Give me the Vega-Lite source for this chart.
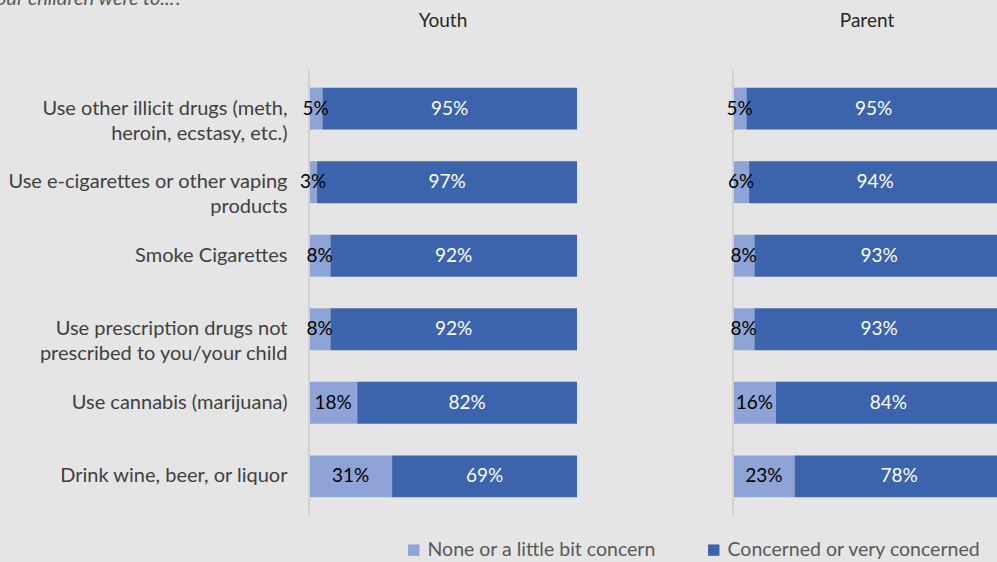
{
  "$schema": "https://vega.github.io/schema/vega-lite/v6.json",
  "background": "#e5e5e5",
  "padding": {"left": -14, "top": -11, "right": 0, "bottom": 5},
  "title": {"text": "your children were to...?", "anchor": "start", "frame": "bounds", "dx": -20, "fontStyle": "italic", "fontWeight": "normal", "fontSize": 20, "font": "Lato", "color": "#595959", "offset": 3},
  "config": {"view": {"stroke": null}, "font": "Lato"},
  "data": {"values": [
    {"group": "Youth", "item": "Use other illicit drugs (meth, heroin, ecstasy, etc.)", "seg": "None or a little bit concern", "k": 1, "v": 0.05},
    {"group": "Youth", "item": "Use other illicit drugs (meth, heroin, ecstasy, etc.)", "seg": "Concerned or very concerned", "k": 2, "v": 0.95},
    {"group": "Youth", "item": "Use e-cigarettes or other vaping products", "seg": "None or a little bit concern", "k": 1, "v": 0.03},
    {"group": "Youth", "item": "Use e-cigarettes or other vaping products", "seg": "Concerned or very concerned", "k": 2, "v": 0.97},
    {"group": "Youth", "item": "Smoke Cigarettes", "seg": "None or a little bit concern", "k": 1, "v": 0.08},
    {"group": "Youth", "item": "Smoke Cigarettes", "seg": "Concerned or very concerned", "k": 2, "v": 0.92},
    {"group": "Youth", "item": "Use prescription drugs not prescribed to you/your child", "seg": "None or a little bit concern", "k": 1, "v": 0.08},
    {"group": "Youth", "item": "Use prescription drugs not prescribed to you/your child", "seg": "Concerned or very concerned", "k": 2, "v": 0.92},
    {"group": "Youth", "item": "Use cannabis (marijuana)", "seg": "None or a little bit concern", "k": 1, "v": 0.18},
    {"group": "Youth", "item": "Use cannabis (marijuana)", "seg": "Concerned or very concerned", "k": 2, "v": 0.82},
    {"group": "Youth", "item": "Drink wine, beer, or liquor", "seg": "None or a little bit concern", "k": 1, "v": 0.31},
    {"group": "Youth", "item": "Drink wine, beer, or liquor", "seg": "Concerned or very concerned", "k": 2, "v": 0.69},
    {"group": "Parent", "item": "Use other illicit drugs (meth, heroin, ecstasy, etc.)", "seg": "None or a little bit concern", "k": 1, "v": 0.05},
    {"group": "Parent", "item": "Use other illicit drugs (meth, heroin, ecstasy, etc.)", "seg": "Concerned or very concerned", "k": 2, "v": 0.95},
    {"group": "Parent", "item": "Use e-cigarettes or other vaping products", "seg": "None or a little bit concern", "k": 1, "v": 0.06},
    {"group": "Parent", "item": "Use e-cigarettes or other vaping products", "seg": "Concerned or very concerned", "k": 2, "v": 0.94},
    {"group": "Parent", "item": "Smoke Cigarettes", "seg": "None or a little bit concern", "k": 1, "v": 0.08},
    {"group": "Parent", "item": "Smoke Cigarettes", "seg": "Concerned or very concerned", "k": 2, "v": 0.93},
    {"group": "Parent", "item": "Use prescription drugs not prescribed to you/your child", "seg": "None or a little bit concern", "k": 1, "v": 0.08},
    {"group": "Parent", "item": "Use prescription drugs not prescribed to you/your child", "seg": "Concerned or very concerned", "k": 2, "v": 0.93},
    {"group": "Parent", "item": "Use cannabis (marijuana)", "seg": "None or a little bit concern", "k": 1, "v": 0.16},
    {"group": "Parent", "item": "Use cannabis (marijuana)", "seg": "Concerned or very concerned", "k": 2, "v": 0.84},
    {"group": "Parent", "item": "Drink wine, beer, or liquor", "seg": "None or a little bit concern", "k": 1, "v": 0.23},
    {"group": "Parent", "item": "Drink wine, beer, or liquor", "seg": "Concerned or very concerned", "k": 2, "v": 0.78}
  ]},
  "spacing": 146,
  "facet": {"column": {"field": "group", "type": "nominal", "sort": ["Youth", "Parent"], "header": {"title": null, "labelFontSize": 19, "labelFont": "Lato", "labelColor": "#262626", "labelPadding": 38}}},
  "spec": {
    "width": 268,
    "height": 445,
    "layer": [
      {"mark": {"type": "bar", "clip": false},
       "encoding": {
         "y": {"field": "item", "type": "nominal",
           "sort": ["Use other illicit drugs (meth, heroin, ecstasy, etc.)", "Use e-cigarettes or other vaping products", "Smoke Cigarettes", "Use prescription drugs not prescribed to you/your child", "Use cannabis (marijuana)", "Drink wine, beer, or liquor"],
           "scale": {"paddingInner": 0.43, "paddingOuter": 0.24},
           "axis": {"title": null, "domain": false, "ticks": false, "labelFontSize": 20, "labelFont": "Lato", "labelColor": "#404040", "labelPadding": 12, "labelLineHeight": 25, "labelLimit": 400,
             "labelExpr": "datum.value == 'Use other illicit drugs (meth, heroin, ecstasy, etc.)' ? ['Use other illicit drugs (meth,', 'heroin, ecstasy, etc.)'] : datum.value == 'Use e-cigarettes or other vaping products' ? ['Use e-cigarettes or other vaping', 'products'] : datum.value == 'Use prescription drugs not prescribed to you/your child' ? ['Use prescription drugs not', 'prescribed to you/your child'] : datum.value"}},
         "x": {"field": "v", "type": "quantitative", "stack": "zero", "scale": {"domain": [0, 1]}, "axis": null},
         "color": {"field": "seg", "type": "nominal", "scale": {"domain": ["None or a little bit concern", "Concerned or very concerned"], "range": ["#8fa4d6", "#3b64ad"]},
           "legend": {"orient": "none", "legendX": 95, "legendY": 470, "direction": "horizontal", "title": null, "symbolType": "square", "symbolSize": 130, "symbolStrokeWidth": 0, "labelFontSize": 19.5, "labelFont": "Lato", "labelColor": "#595959", "labelLimit": 400, "columnPadding": 48}},
         "order": {"field": "k", "type": "quantitative"}
       }},
      {"mark": {"type": "rule", "color": "#d2d2d2", "strokeWidth": 1.5}, "encoding": {"x": {"datum": 0, "type": "quantitative"}}},
      {"mark": {"type": "text", "fontSize": 19, "font": "Lato", "clip": false},
       "encoding": {
         "y": {"field": "item", "type": "nominal", "sort": ["Use other illicit drugs (meth, heroin, ecstasy, etc.)", "Use e-cigarettes or other vaping products", "Smoke Cigarettes", "Use prescription drugs not prescribed to you/your child", "Use cannabis (marijuana)", "Drink wine, beer, or liquor"]},
         "x": {"field": "v", "type": "quantitative", "stack": "zero", "bandPosition": 0.5},
         "detail": {"field": "seg", "type": "nominal"},
         "order": {"field": "k", "type": "quantitative"},
         "text": {"field": "v", "type": "quantitative", "format": ".0%"},
         "color": {"condition": {"test": "datum.k == 1", "value": "#000000"}, "value": "#ffffff"}
       }}
    ]
  }
}
